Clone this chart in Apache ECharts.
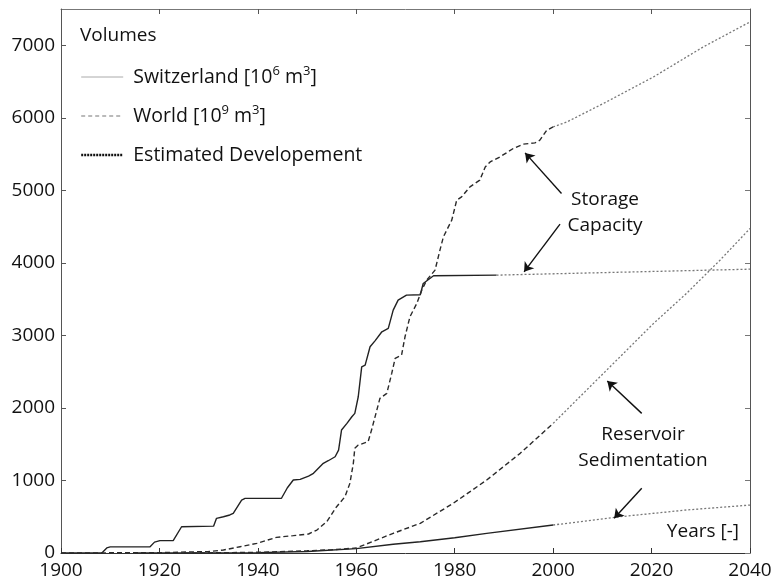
<!DOCTYPE html>
<html>
<head>
<meta charset="utf-8">
<script src="https://cdn.jsdelivr.net/npm/echarts@6/dist/echarts.min.js"></script>
<style>
html,body{margin:0;padding:0;background:#fff;}
#chart{width:775px;height:584px;}
</style>
</head>
<body>
<div id="chart"></div>
<script>
// ---- axis ticks ----
const xTicks = [1900, 1920, 1940, 1960, 1980, 2000, 2020, 2040];
const yTicks = [0, 1000, 2000, 3000, 4000, 5000, 6000, 7000];

// ---- Storage capacity, Switzerland [10^6 m^3] (measured) ----
const swissStorageYears  = [1900,1908.3,1909.3,1910,1918.1,1919,1920.1,1922.8,1924.5,1931,1931.6,1933,1934.3,1935,1936.7,1937.4,1944.8,1946,1947.2,1948.6,1950.3,1951.3,1953.3,1954.3,1955.7,1956.4,1957,1958.1,1959.1,1959.7,1960.4,1961.1,1961.8,1962.8,1963.8,1965.2,1966.5,1967.5,1968.5,1970.2,1973.0,1973.6,1975.7,1988.5];
const swissStorageValues = [0,0,70,85,87,150,170,170,362,370,478,500,524,547,730,753,755,900,1006,1015,1061,1098,1236,1272,1327,1419,1695,1787,1879,1925,2154,2567,2591,2843,2925,3050,3096,3348,3486,3555,3560,3716,3822,3831];
// estimated
const swissStorageEstYears  = [1988.5, 2040];
const swissStorageEstValues = [3831, 3913];

// ---- Storage capacity, World [10^9 m^3] (measured) ----
const worldStorageYears  = [1900,1920,1930,1933,1936.4,1939.8,1943.8,1947.2,1950.3,1952,1954,1956,1957.7,1958.7,1959.4,1959.7,1960.4,1962.4,1963.1,1964.8,1966.2,1967.2,1967.9,1969.2,1969.9,1970.9,1972.3,1973.3,1974.3,1976,1977,1977.7,1979.4,1980.4,1981.4,1983.1,1985.1,1986.2,1987.2,1989.2,1991.9,1993.9,1996.3,1997.3,1998.7,2000];
const worldStorageValues = [0,5,20,41,87,133,216,239,262,317,432,638,776,960,1236,1443,1488,1534,1695,2131,2200,2476,2683,2728,2981,3256,3441,3624,3762,3900,4175,4359,4589,4864,4910,5048,5140,5323,5392,5461,5577,5636,5654,5691,5829,5874];
// estimated
const worldStorageEstYears  = [2000,2002.8,2010.2,2020.4,2030.5,2040];
const worldStorageEstValues = [5874,5943,6197,6564,6977,7322];

// ---- Reservoir sedimentation, World (measured / estimated) ----
const worldSedYears     = [1925,1930,1940,1950,1955,1960,1967.5,1973,1979.7,1986.5,1993.3,2000];
const worldSedValues    = [0,2,10,30,45,68,271,409,685,1006,1374,1787];
const worldSedEstYears  = [2000,2006.8,2013.6,2020.4,2027.1,2033.9,2040];
const worldSedEstValues = [1787,2246,2705,3165,3579,4037,4474];

// ---- Reservoir sedimentation, Switzerland (measured / estimated) ----
const swissSedYears     = [1915,1920,1940,1950,1960,1967.5,1973,1980,1986.5,2000];
const swissSedValues    = [0,0,5,20,60,120,156,210,271,386];
const swissSedEstYears  = [2000,2013.6,2027.1,2040];
const swissSedEstValues = [386,500,593,661];

// ---- annotation arrows (tail -> head, in data units) ----
const arrowTails = [[2001.7,4957],[2001.4,4534],[2018,1925],[2018,892]];
const arrowHeads = [[1994.3,5516],[1994.1,3876],[2011,2370],[2012.4,478]];

const zip = (xs, ys) => xs.map((x, i) => [x, ys[i]]);

const FONT = 'Open Sans';
const chart = echarts.init(document.getElementById('chart'));

const solidStyle  = { color: '#222', width: 1.4, type: 'solid' };
const dashedStyle = { color: '#2a2a2a', width: 1.4, type: [5, 3] };
const estStyle    = { color: '#777', width: 1.3, type: [2, 2] };

function lineSeries(name, data, style, extra) {
  return Object.assign({
    name: name, type: 'line', data: data, symbol: 'none', showSymbol: false,
    lineStyle: style, itemStyle: { color: style.color }, silent: true, z: 3
  }, extra || {});
}

const legendText = {
  Switzerland: '{t| Switzerland [10}{s|6}{t| m}{s|3}{t|]}',
  World: '{t| World [10}{s|9}{t| m}{s|3}{t|]}',
  Estimated: '{t| Estimated Developement}'
};

const option = {
  animation: false,
  backgroundColor: '#fff',
  textStyle: { fontFamily: FONT },
  title: {
    text: 'Volumes', left: 75, top: 21,
    textStyle: { fontFamily: FONT, fontSize: 19, fontWeight: 'normal', color: '#111' }
  },
  legend: {
    show: true,
    orient: 'vertical', left: 75, top: 60,
    itemWidth: 42, itemHeight: 14, itemGap: 15,
    selectedMode: false,
    data: [
      { name: 'Switzerland', lineStyle: { color: '#aaa', width: 1, type: 'solid' }, itemStyle: { opacity: 0 } },
      { name: 'World', lineStyle: { color: '#777', width: 1.2, type: [4, 3] }, itemStyle: { opacity: 0 } },
      { name: 'Estimated', lineStyle: { color: '#111', width: 2.4, type: [2, 1] }, itemStyle: { opacity: 0 } }
    ],
    formatter: function (n) { return legendText[n]; },
    textStyle: {
      fontFamily: FONT, color: '#111', fontSize: 19.5, lineHeight: 24,
      rich: {
        t: { fontFamily: FONT, fontSize: 19.5, color: '#111', lineHeight: 24 },
        s: { fontFamily: FONT, fontSize: 13, color: '#111', lineHeight: 24, verticalAlign: 'top' }
      }
    }
  },
  grid: { left: 61, right: 25, top: 9, bottom: 31 },
  xAxis: [{
    type: 'value', min: 1900, max: 2040, interval: 20,
    axisLine: { show: true, onZero: false, lineStyle: { color: '#333', width: 1 } },
    axisTick: { show: true, inside: true, length: 5, lineStyle: { color: '#333' } },
    axisLabel: { fontFamily: FONT, fontSize: 19, color: '#111', margin: 8,
      formatter: function (v) { return xTicks.indexOf(v) >= 0 ? String(v) : ''; } },
    splitLine: { show: false }
  }, {
    type: 'value', min: 1900, max: 2040, interval: 20, position: 'top',
    axisLine: { show: true, onZero: false, lineStyle: { color: '#777', width: 1 } },
    axisTick: { show: true, inside: true, length: 5, lineStyle: { color: '#555' } },
    axisLabel: { show: false }, splitLine: { show: false }
  }],
  yAxis: [{
    type: 'value', min: 0, max: 7500, interval: 1000,
    axisLine: { show: true, onZero: false, lineStyle: { color: '#555', width: 1 } },
    axisTick: { show: true, inside: true, length: 5, lineStyle: { color: '#555' } },
    axisLabel: { fontFamily: FONT, fontSize: 19, color: '#111', margin: 6, showMaxLabel: false,
      formatter: function (v) { return yTicks.indexOf(v) >= 0 ? String(v) : ''; } },
    splitLine: { show: false }
  }, {
    type: 'value', min: 0, max: 7500, interval: 1000, position: 'right',
    axisLine: { show: true, onZero: false, lineStyle: { color: '#555', width: 1 } },
    axisTick: { show: true, inside: true, length: 5, lineStyle: { color: '#777' } },
    axisLabel: { show: false }, splitLine: { show: false }
  }],
  series: [
    lineSeries('Switzerland', zip(swissStorageYears, swissStorageValues), solidStyle, {
      markLine: {
        silent: true, animation: false,
        symbol: ['none', 'arrow'], symbolSize: 9,
        label: { show: false },
        lineStyle: { color: '#111', width: 1.4, type: 'solid' },
        data: arrowTails.map(function (t, i) { return [{ coord: t }, { coord: arrowHeads[i] }]; })
      }
    }),
    lineSeries('Switzerland', zip(swissSedYears, swissSedValues), solidStyle),
    lineSeries('World', zip(worldStorageYears, worldStorageValues), dashedStyle),
    lineSeries('World', zip(worldSedYears, worldSedValues), dashedStyle),
    lineSeries('Estimated', zip(swissStorageEstYears, swissStorageEstValues), estStyle),
    lineSeries('Estimated', zip(worldStorageEstYears, worldStorageEstValues), estStyle),
    lineSeries('Estimated', zip(worldSedEstYears, worldSedEstValues), estStyle),
    lineSeries('Estimated', zip(swissSedEstYears, swissSedEstValues), estStyle)
  ],
  graphic: [
    { type: 'text', x: 605, y: 187, silent: true,
      style: { text: 'Storage\nCapacity', font: '19px "Open Sans"', fill: '#111', textAlign: 'center', textVerticalAlign: 'top', lineHeight: 26 } },
    { type: 'text', x: 643, y: 422, silent: true,
      style: { text: 'Reservoir\nSedimentation', font: '19px "Open Sans"', fill: '#111', textAlign: 'center', textVerticalAlign: 'top', lineHeight: 26 } },
    { type: 'text', x: 739, y: 532, silent: true,
      style: { text: 'Years [-]', font: '19px "Open Sans"', fill: '#111', textAlign: 'right', textVerticalAlign: 'middle' } }
  ]
};
chart.setOption(option);
</script>
</body>
</html>
